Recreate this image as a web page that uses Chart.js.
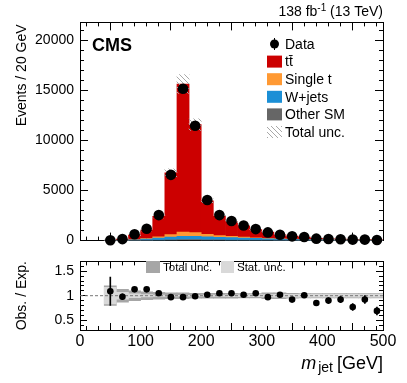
<!DOCTYPE html>
<html>
<head>
<meta charset="utf-8">
<script src="https://cdn.jsdelivr.net/npm/chart.js@4.4.0/dist/chart.umd.min.js"></script>
<style>
  html, body { margin: 0; padding: 0; background: #fff; }
  #wrap { position: relative; width: 407px; height: 383px; }
  #top { position: absolute; left: 0; top: 0; }
  #bot { position: absolute; left: 0; top: 240px; }
</style>
</head>
<body>
<div id="wrap">
  <canvas id="top" width="407" height="263" style="width:407px;height:263px"></canvas>
  <canvas id="bot" width="407" height="143" style="width:407px;height:143px"></canvas>
</div>
<script>
// bin centres of m_jet, 20 GeV wide bins
const binCenters = [50, 70, 90, 110, 130, 150, 170, 190, 210, 230, 250, 270, 290, 310, 330, 350, 370, 390, 410, 430, 450, 470, 490];

// events per bin
const dataEvents = [40, 150, 630, 1180, 2550, 6570, 15170, 11480, 4060, 2550, 1960, 1510, 1150, 820, 590, 425, 360, 196, 164, 131, 98, 98, 60];
const ttbar      = [17, 118, 452, 834, 2060, 6176, 14800, 10794, 3350, 1925, 1455, 1137, 803, 611, 391, 310, 234, 132, 101, 76, 72, 60, 49];
const singleTop  = [3, 10, 30, 60, 120, 250, 420, 380, 250, 170, 120, 90, 70, 50, 40, 30, 24, 18, 14, 11, 9, 7, 6];
const wJets      = [5, 20, 60, 120, 200, 280, 330, 330, 300, 270, 240, 210, 180, 150, 120, 100, 80, 65, 55, 45, 38, 32, 26];
const otherSM    = [2, 5, 15, 30, 50, 70, 90, 90, 75, 65, 55, 45, 38, 32, 26, 22, 18, 15, 12, 10, 8, 7, 6];

// relative uncertainties of the prediction
const totalUnc = [0.2, 0.13, 0.1, 0.08, 0.07, 0.06, 0.06, 0.05, 0.05, 0.05, 0.05, 0.045, 0.045, 0.06, 0.06, 0.05, 0.045, 0.045, 0.045, 0.045, 0.045, 0.045, 0.045];
const statUnc  = [0.17, 0.07, 0.04, 0.025, 0.015, 0.01, 0.008, 0.01, 0.012, 0.015, 0.018, 0.02, 0.022, 0.025, 0.028, 0.03, 0.03, 0.03, 0.03, 0.03, 0.03, 0.03, 0.03];

// obs / exp
const ratio    = [1.09, 0.98, 1.13, 1.13, 1.05, 0.97, 0.97, 0.99, 1.02, 1.05, 1.05, 1.02, 1.05, 0.97, 1.02, 0.92, 1.01, 0.85, 0.90, 0.92, 0.77, 0.92, 0.69];
const ratioErr = [0.29, 0.06, 0.03, 0.02, 0.015, 0.01, 0.01, 0.01, 0.015, 0.02, 0.02, 0.02, 0.025, 0.03, 0.035, 0.04, 0.045, 0.05, 0.055, 0.06, 0.07, 0.08, 0.08];

// axis ticks
const xTicks = [0, 100, 200, 300, 400, 500];
const yTicksTop = [0, 5000, 10000, 15000, 20000];
const yTicksRatio = [0.5, 1, 1.5];
const xMinor = Array.from({ length: 26 }, (_, i) => i * 20);
const yMinorTop = Array.from({ length: 22 }, (_, i) => i * 1000);
const yMinorRatio = Array.from({ length: 15 }, (_, i) => Math.round(3 + i) / 10);

const ttLabel = 't' + 't\u0304';
const colTT = '#cc0000', colST = '#ff9933', colW = '#1b8fd6', colOther = '#666666';
const colTot = '#a6a6a6', colStat = '#d9d9d9';
const FONT = "'Liberation Sans', Arial, Helvetica, sans-serif";

Chart.defaults.font.family = FONT;
Chart.defaults.color = '#000';

function makeHatch() {
  const c = document.createElement('canvas');
  c.width = 5; c.height = 5;
  const g = c.getContext('2d');
  g.strokeStyle = '#a8a8a8';
  g.lineWidth = 1;
  g.beginPath();
  g.moveTo(-1, -1); g.lineTo(6, 6);
  g.stroke();
  return g.createPattern(c, 'repeat');
}
const hatch = makeHatch();

const mcTotal = binCenters.map((_, i) => ttbar[i] + singleTop[i] + wJets[i] + otherSM[i]);
const pts = arr => binCenters.map((x, i) => ({ x: x, y: arr[i] }));

// an axis that only draws inward tick marks (and optionally the frame line)
function tickAxis(position, min, max, ticks, len, border, weight) {
  return {
    type: 'linear', position: position, min: min, max: max, offset: false, weight: weight || 0,
    ticks: { display: false },
    grid: { display: true, drawOnChartArea: false, drawTicks: true, tickLength: -len, color: '#000', lineWidth: 1 },
    border: { display: !!border, color: '#000', width: 1 },
    afterBuildTicks: s => { s.ticks = ticks.map(v => ({ value: v })); },
    afterFit: s => { if (s.isHorizontal()) s.height = 0; else s.width = 0; }
  };
}

const topText = {
  id: 'topText',
  afterDraw(chart) {
    const { ctx, chartArea: a } = chart;
    ctx.save();
    ctx.fillStyle = '#000';
    ctx.textAlign = 'left';
    ctx.textBaseline = 'alphabetic';

    // lumi label, right aligned to the frame
    ctx.font = '14px ' + FONT;
    const p1 = '138 fb', p3 = ' (13 TeV)';
    const w1 = ctx.measureText(p1).width, w3 = ctx.measureText(p3).width;
    ctx.font = '10px ' + FONT;
    const w2 = ctx.measureText('-1').width;
    const x0 = a.right - (w1 + w2 + w3);
    ctx.font = '14px ' + FONT;
    ctx.fillText(p1, x0, 16);
    ctx.font = '10px ' + FONT;
    ctx.fillText('-1', x0 + w1, 11);
    ctx.font = '14px ' + FONT;
    ctx.fillText(p3, x0 + w1 + w2, 16);

    ctx.font = 'bold 18px ' + FONT;
    ctx.fillText('CMS', 92, 51);

    // y title
    ctx.save();
    ctx.translate(22, a.top + 2);
    ctx.rotate(-Math.PI / 2);
    ctx.font = '14px ' + FONT;
    ctx.textAlign = 'right';
    ctx.textBaseline = 'middle';
    ctx.fillText('Events / 20 GeV', 0, 0);
    ctx.restore();

    // legend
    const rows = ['Data', ttLabel, 'Single t', 'W+jets', 'Other SM', 'Total unc.'];
    const bx = 267, bw = 15, bh = 12, y0 = 44, dy = 17.6;
    ctx.font = '14px ' + FONT;
    ctx.textAlign = 'left';
    ctx.textBaseline = 'middle';
    rows.forEach((lab, i) => {
      const yc = y0 + i * dy;
      const ds = chart.data.datasets.find(d => d.label === lab);
      ctx.fillStyle = '#000';
      if (lab === 'Data') {
        ctx.beginPath();
        ctx.arc(bx + bw / 2, yc, 4.5, 0, Math.PI * 2);
        ctx.fill();
        ctx.fillRect(bx + bw / 2 - 0.5, yc - 6, 1, 12);
      } else {
        ctx.fillStyle = ds.backgroundColor;
        ctx.fillRect(bx, yc - bh / 2, bw, bh);
      }
      ctx.fillStyle = '#000';
      ctx.fillText(lab, 285, yc + 1);
    });
    ctx.restore();
  }
};

const botText = {
  id: 'botText',
  afterDraw(chart) {
    const { ctx, chartArea: a } = chart;
    ctx.save();
    ctx.fillStyle = '#000';
    ctx.textAlign = 'left';

    // y title
    ctx.save();
    ctx.translate(22, (a.top + a.bottom) / 2);
    ctx.rotate(-Math.PI / 2);
    ctx.font = '14px ' + FONT;
    ctx.textAlign = 'center';
    ctx.textBaseline = 'middle';
    ctx.fillText('Obs. / Exp.', 0, 0);
    ctx.restore();

    // legend of the bands
    ctx.font = '11.5px ' + FONT;
    ctx.textAlign = 'left';
    ctx.textBaseline = 'middle';
    ctx.fillStyle = colTot;
    ctx.fillRect(146, 21, 14, 12);
    ctx.fillStyle = colStat;
    ctx.fillRect(221, 21, 13, 12);
    ctx.fillStyle = '#000';
    ctx.fillText('Total unc.', 163, 27.5);
    ctx.fillText('Stat. unc.', 237, 27.5);

    // x title: m_jet [GeV]
    const base = 129;
    ctx.textBaseline = 'alphabetic';
    ctx.font = 'italic 18px ' + FONT;
    const wm = ctx.measureText('m').width;
    ctx.font = '14px ' + FONT;
    const wj = ctx.measureText('jet').width;
    ctx.font = '18px ' + FONT;
    const wg = ctx.measureText('[GeV]').width;
    const x0 = a.right - (wm + 2 + wj + 4 + wg);
    ctx.font = 'italic 18px ' + FONT;
    ctx.fillText('m', x0, base);
    ctx.font = '14px ' + FONT;
    ctx.fillText('jet', x0 + wm + 2, base + 3);
    ctx.font = '18px ' + FONT;
    ctx.fillText('[GeV]', x0 + wm + 2 + wj + 4, base);
    ctx.restore();
  }
};

const barDefaults = { barPercentage: 1, categoryPercentage: 1, borderWidth: 0 };

new Chart(document.getElementById('top'), {
  type: 'bar',
  data: {
    datasets: [
      { type: 'scatter', label: 'Data', data: pts(dataEvents), pointRadius: 5.3, pointHoverRadius: 5.3,
        backgroundColor: '#000', borderColor: '#000', borderWidth: 0, order: 0, clip: false },
      { label: 'Total unc.', grouped: false, order: 1, backgroundColor: hatch,
        data: binCenters.map((x, i) => ({ x: x, y: [mcTotal[i] * (1 - totalUnc[i]), mcTotal[i] * (1 + totalUnc[i])] })) },
      { label: 'Other SM', data: pts(otherSM), backgroundColor: colOther, stack: 'mc', grouped: false, order: 2 },
      { label: 'W+jets', data: pts(wJets), backgroundColor: colW, stack: 'mc', grouped: false, order: 2 },
      { label: 'Single t', data: pts(singleTop), backgroundColor: colST, stack: 'mc', grouped: false, order: 2 },
      { label: ttLabel, data: pts(ttbar), backgroundColor: colTT, stack: 'mc', grouped: false, order: 2 }
    ]
  },
  options: {
    responsive: false,
    animation: false,
    events: [],
    layout: { padding: { top: 21, right: 24, left: 0, bottom: 0 } },
    datasets: { bar: barDefaults },
    plugins: { legend: { display: false }, tooltip: { enabled: false } },
    scales: {
      x: {
        type: 'linear', position: 'bottom', min: 0, max: 500, offset: false, weight: 1,
        ticks: { display: false },
        grid: { display: true, drawOnChartArea: false, drawTicks: true, tickLength: -8, color: '#000' },
        border: { display: true, color: '#000', width: 1 },
        afterBuildTicks: s => { s.ticks = xTicks.map(v => ({ value: v })); },
        afterFit: s => { s.height = 20; }
      },
      y: {
        type: 'linear', position: 'left', min: 0, max: 21800, weight: 1,
        ticks: { font: { size: 14 }, padding: 14, callback: v => String(v) },
        grid: { display: true, drawOnChartArea: false, drawTicks: true, tickLength: -8, color: '#000' },
        border: { display: true, color: '#000', width: 1 },
        afterBuildTicks: s => { s.ticks = yTicksTop.map(v => ({ value: v })); },
        afterFit: s => { s.width = 80; }
      },
      xMinor: tickAxis('bottom', 0, 500, xMinor, 4, false, 0),
      xTop: tickAxis('top', 0, 500, xTicks, 8, true, 1),
      xTopMinor: tickAxis('top', 0, 500, xMinor, 4, false, 0),
      yMinor: tickAxis('left', 0, 21800, yMinorTop, 4, false, 0),
      yRight: tickAxis('right', 0, 21800, yTicksTop, 8, true, 1),
      yRightMinor: tickAxis('right', 0, 21800, yMinorTop, 4, false, 0)
    }
  },
  plugins: [topText]
});

new Chart(document.getElementById('bot'), {
  type: 'bar',
  data: {
    datasets: [
      { type: 'scatter', label: 'Obs/Exp', data: pts(ratio), pointRadius: 3.3, pointHoverRadius: 3.3,
        backgroundColor: '#000', borderColor: '#000', borderWidth: 0, order: 0, clip: false },
      { label: 'stat err', order: 1, backgroundColor: '#000', barThickness: 1, maxBarThickness: 1,
        data: binCenters.map((x, i) => ({ x: x, y: [ratio[i] - ratioErr[i], ratio[i] + ratioErr[i]] })) },
      { type: 'line', label: 'unity', data: [{ x: 0, y: 1 }, { x: 500, y: 1 }], borderColor: '#777',
        borderWidth: 1, borderDash: [3, 2], pointRadius: 0, order: 2 },
      { label: 'Stat. unc.', grouped: false, order: 3, backgroundColor: colStat,
        data: binCenters.map((x, i) => ({ x: x, y: [1 - statUnc[i], 1 + statUnc[i]] })) },
      { label: 'Total unc.', grouped: false, order: 4, backgroundColor: colTot,
        data: binCenters.map((x, i) => ({ x: x, y: [1 - totalUnc[i], 1 + totalUnc[i]] })) }
    ]
  },
  options: {
    responsive: false,
    animation: false,
    events: [],
    layout: { padding: { top: 14, right: 24, left: 0, bottom: 0 } },
    datasets: { bar: barDefaults },
    plugins: { legend: { display: false }, tooltip: { enabled: false } },
    scales: {
      x: {
        type: 'linear', position: 'bottom', min: 0, max: 500, offset: false, weight: 1,
        ticks: { font: { size: 16 }, padding: 9, maxRotation: 0, autoSkip: false },
        grid: { display: true, drawOnChartArea: false, drawTicks: true, tickLength: -7, color: '#000' },
        border: { display: true, color: '#000', width: 1 },
        afterBuildTicks: s => { s.ticks = xTicks.map(v => ({ value: v })); },
        afterFit: s => { s.height = 53; }
      },
      y: {
        type: 'linear', position: 'left', min: 0.3, max: 1.7, weight: 1,
        ticks: { font: { size: 14 }, padding: 13, callback: v => String(v) },
        grid: { display: true, drawOnChartArea: false, drawTicks: true, tickLength: -7, color: '#000' },
        border: { display: true, color: '#000', width: 1 },
        afterBuildTicks: s => { s.ticks = yTicksRatio.map(v => ({ value: v })); },
        afterFit: s => { s.width = 80; }
      },
      xMinor: tickAxis('bottom', 0, 500, xMinor, 4, false, 0),
      xTop: tickAxis('top', 0, 500, xTicks, 7, true, 1),
      xTopMinor: tickAxis('top', 0, 500, xMinor, 4, false, 0),
      yMinor: tickAxis('left', 0.3, 1.7, yMinorRatio, 4, false, 0),
      yRight: tickAxis('right', 0.3, 1.7, yTicksRatio, 7, true, 1),
      yRightMinor: tickAxis('right', 0.3, 1.7, yMinorRatio, 4, false, 0)
    }
  },
  plugins: [botText]
});
</script>
</body>
</html>
